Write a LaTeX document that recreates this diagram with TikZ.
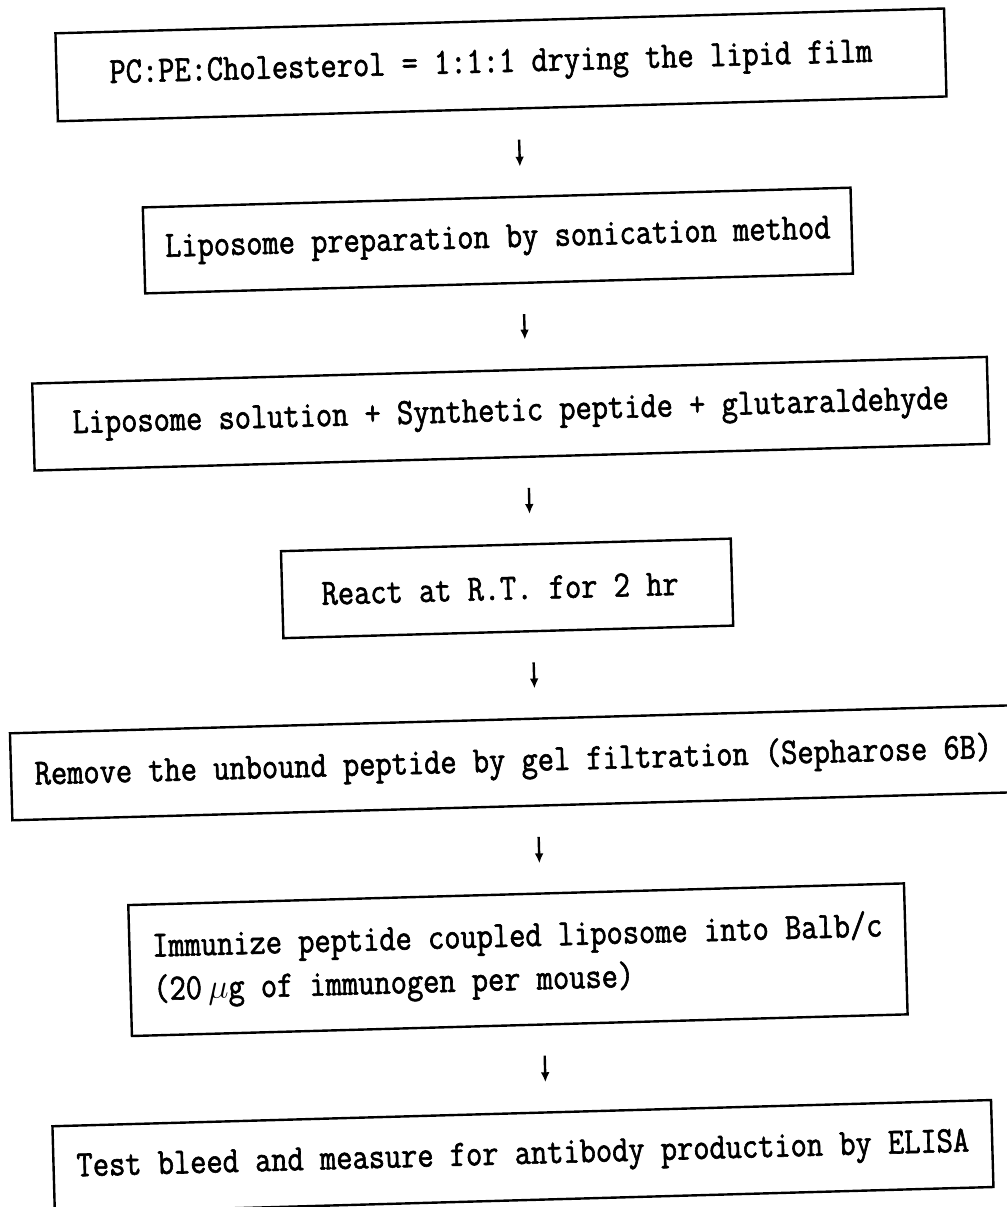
\documentclass[tikz,border=0pt]{standalone}
\usepackage{fontspec}
\newfontfamily\stepfont[FakeStretch=0.852,FakeBold=1.6]{Latin Modern Mono}
\usetikzlibrary{arrows.meta,calc}
\begin{document}
\begin{tikzpicture}[x=0.5pt,y=0.5pt,
  stepbox/.style={draw, line width=1.2pt, inner sep=0pt, align=left,
    font=\stepfont\fontsize{18.5pt}{21.75pt}\selectfont},
  flow/.style={-{Latex[length=5pt,width=4.4pt]}, line width=1.2pt,
    shorten <=15pt, shorten >=14.5pt}]
\useasboundingbox (0,0) rectangle (1007,1207);
% the whole sheet sits slightly turned
\begin{scope}[rotate around={1.6:(503.5,603.5)}, transform shape]
  \node[stepbox, minimum width=444.5pt, minimum height=44pt] (s1) at (516,1142)
    {PC:PE:Cholesterol = 1:1:1 drying the lipid film\hspace*{10pt}};
  \node[stepbox, minimum width=354pt, minimum height=43pt] (s2) at (508,966.5)
    {Liposome preparation by sonication method};
  \node[stepbox, minimum width=477.5pt, minimum height=43.5pt] (s3) at (516,793)
    {Liposome solution + Synthetic peptide + glutaraldehyde};
  \node[stepbox, minimum width=225pt, minimum height=43.5pt] (s4) at (507.5,618.5)
    {React at R.T. for 2 hr\hspace*{7pt}};
  \node[stepbox, minimum width=502.5pt, minimum height=43.5pt] (s5) at (509,444)
    {Remove the unbound peptide by gel filtration (Sepharose 6B)};
  \node[stepbox, minimum width=388pt, minimum height=65.5pt] (s6) at (508,247)
    {Immunize peptide coupled liposome into Balb/c\\(20\hspace{3pt}$\mu$g of immunogen per mouse)};
  \node[stepbox, minimum width=469.5pt, minimum height=43.5pt] (s7) at (507.5,50)
    {Test bleed and measure for antibody production by ELISA};

  \draw[flow] ($(s1.south west)!0.518!(s1.south east)$) -- ($(s2.north west)!0.534!(s2.north east)$);
  \draw[flow] ($(s2.south west)!0.534!(s2.south east)$) -- ($(s3.north west)!0.517!(s3.north east)$);
  \draw[flow] ($(s3.south west)!0.517!(s3.south east)$) -- ($(s4.north west)!0.554!(s4.north east)$);
  \draw[flow] ($(s4.south west)!0.554!(s4.south east)$) -- ($(s5.north west)!0.523!(s5.north east)$);
  \draw[flow] ($(s5.south west)!0.523!(s5.south east)$) -- ($(s6.north west)!0.531!(s6.north east)$);
  \draw[flow] ($(s6.south west)!0.531!(s6.south east)$) -- ($(s7.north west)!0.526!(s7.north east)$);
\end{scope}
\end{tikzpicture}
\end{document}
